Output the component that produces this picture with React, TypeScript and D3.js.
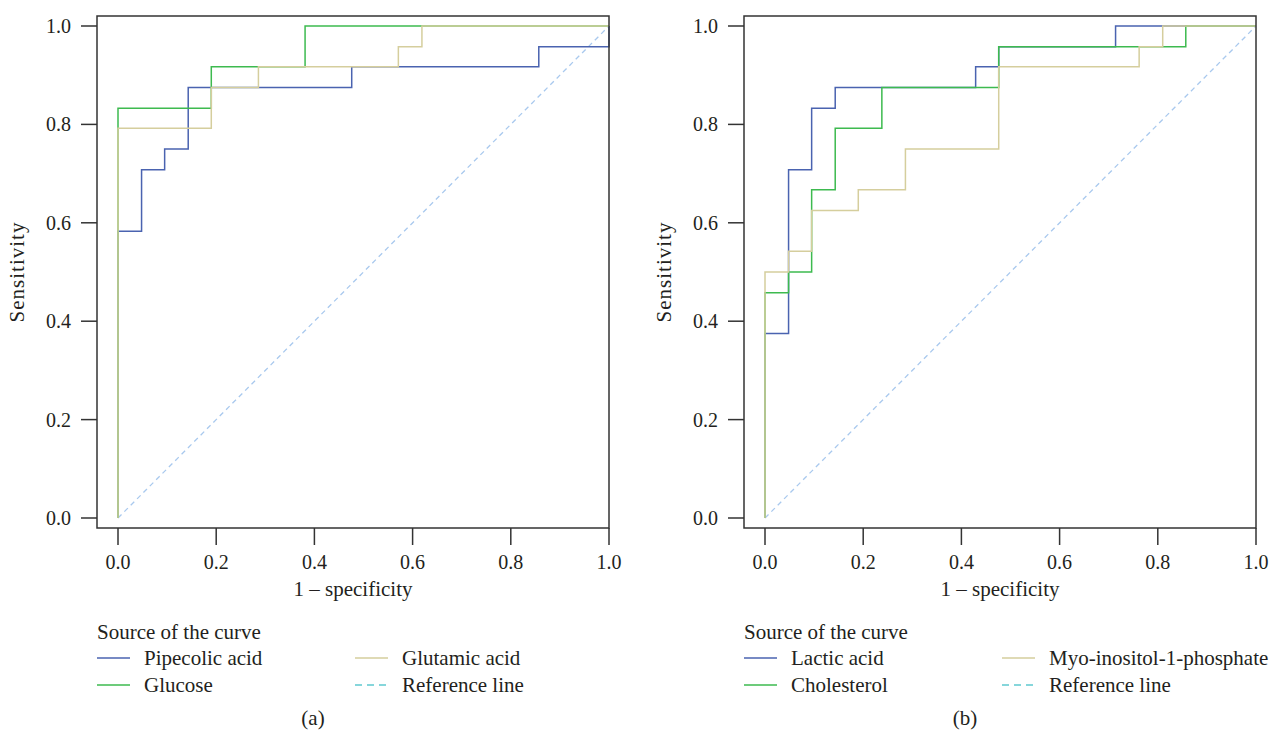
import React from "react";
import * as d3 from "d3";

// ---- Data ----
const tickValues = [0, 0.2, 0.4, 0.6, 0.8, 1.0];

const pipecolicFpr = [0, 0, 0.048, 0.095, 0.143, 0.476, 0.857, 1];
const pipecolicTpr = [0, 0.583, 0.708, 0.75, 0.875, 0.917, 0.958, 1];
const glucoseFpr = [0, 0, 0.19, 0.381, 1];
const glucoseTpr = [0, 0.833, 0.917, 1, 1];
const glutamicFpr = [0, 0, 0.19, 0.286, 0.571, 0.619, 1];
const glutamicTpr = [0, 0.792, 0.875, 0.917, 0.958, 1, 1];

const lacticFpr = [0, 0, 0.048, 0.095, 0.143, 0.429, 0.476, 0.714, 1];
const lacticTpr = [0, 0.375, 0.708, 0.833, 0.875, 0.917, 0.958, 1, 1];
const cholesterolFpr = [0, 0, 0.048, 0.095, 0.143, 0.238, 0.476, 0.857, 1];
const cholesterolTpr = [0, 0.458, 0.5, 0.667, 0.792, 0.875, 0.958, 1, 1];
const myoFpr = [0, 0, 0.048, 0.095, 0.19, 0.286, 0.476, 0.762, 0.81, 1];
const myoTpr = [0, 0.5, 0.542, 0.625, 0.667, 0.75, 0.917, 0.958, 1, 1];

const refFpr = [0, 1];
const refTpr = [0, 1];

const BLUE = "#4a63b0";
const GREEN = "#3dba4f";
const TAN = "#d5ce9d";
const REF = "#a9c9ee";
const REF_LEGEND = "#5fc9cf";
const INK = "#231f20";
const FONT = "'Liberation Serif', 'Times New Roman', serif";

type Series = { name: string; fpr: number[]; tpr: number[]; color: string };

const panelA: Series[] = [
  { name: "Pipecolic acid", fpr: pipecolicFpr, tpr: pipecolicTpr, color: BLUE },
  { name: "Glucose", fpr: glucoseFpr, tpr: glucoseTpr, color: GREEN },
  { name: "Glutamic acid", fpr: glutamicFpr, tpr: glutamicTpr, color: TAN },
];
const panelB: Series[] = [
  { name: "Lactic acid", fpr: lacticFpr, tpr: lacticTpr, color: BLUE },
  { name: "Cholesterol", fpr: cholesterolFpr, tpr: cholesterolTpr, color: GREEN },
  { name: "Myo-inositol-1-phosphate", fpr: myoFpr, tpr: myoTpr, color: TAN },
];

function Panel({ left, series, caption, captionX }: { left: number; series: Series[]; caption: string; captionX: number }) {
  const frameL = left;
  const frameR = left + 512;
  const frameT = 16;
  const frameB = 528;
  const x = d3.scaleLinear().domain([0, 1]).range([frameL + 21, frameR]);
  const y = d3.scaleLinear().domain([0, 1]).range([518, 26]);
  const step = d3
    .line<[number, number]>()
    .x((d) => x(d[0]))
    .y((d) => y(d[1]))
    .curve(d3.curveStepAfter);
  const straight = d3
    .line<[number, number]>()
    .x((d) => x(d[0]))
    .y((d) => y(d[1]));
  const refPts = refFpr.map((f, i) => [f, refTpr[i]] as [number, number]);
  const fmt = d3.format(".1f");
  const legendItems = [
    { name: series[0].name, color: series[0].color, dash: false, col: 0, row: 0 },
    { name: series[1].name, color: series[1].color, dash: false, col: 0, row: 1 },
    { name: series[2].name, color: series[2].color, dash: false, col: 1, row: 0 },
    { name: "Reference line", color: REF_LEGEND, dash: true, col: 1, row: 1 },
  ];
  return (
    <g fontFamily={FONT} fill={INK}>
      <path d={straight(refPts) || ""} fill="none" stroke={REF} strokeWidth={1.3} strokeDasharray="5,4" />
      {series.map((s) => (
        <path
          key={s.name}
          d={step(s.fpr.map((f, i) => [f, s.tpr[i]] as [number, number])) || ""}
          fill="none"
          stroke={s.color}
          strokeWidth={1.5}
        />
      ))}
      <rect x={frameL} y={frameT} width={frameR - frameL} height={frameB - frameT} fill="none" stroke="#333" strokeWidth={1.5} />
      {tickValues.map((t) => (
        <g key={"y" + t}>
          <line x1={frameL - 16} x2={frameL} y1={y(t)} y2={y(t)} stroke="#333" strokeWidth={1.5} />
          <text x={frameL - 26} y={y(t)} dy="0.35em" textAnchor="end" fontSize={20}>
            {fmt(t)}
          </text>
        </g>
      ))}
      {tickValues.map((t) => (
        <g key={"x" + t}>
          <line x1={x(t)} x2={x(t)} y1={frameB} y2={frameB + 17} stroke="#333" strokeWidth={1.5} />
          <text x={x(t)} y={569} textAnchor="middle" fontSize={20}>
            {fmt(t)}
          </text>
        </g>
      ))}
      <text x={(frameL + frameR) / 2} y={596} textAnchor="middle" fontSize={21}>
        1 – specificity
      </text>
      <text
        transform={`translate(${frameL - 73},${(frameT + frameB) / 2}) rotate(-90)`}
        textAnchor="middle"
        fontSize={21}
        letterSpacing={1}
      >
        Sensitivity
      </text>
      <text x={frameL} y={639} fontSize={21}>
        Source of the curve
      </text>
      {legendItems.map((it) => {
        const lx = frameL + (it.col === 0 ? 0 : 258);
        const ly = 658 + it.row * 27;
        return (
          <g key={it.name}>
            <line
              x1={lx}
              x2={lx + 33}
              y1={ly}
              y2={ly}
              stroke={it.color}
              strokeWidth={1.5}
              strokeDasharray={it.dash ? "7,5" : undefined}
            />
            <text x={lx + 47} y={ly + 7} fontSize={21}>
              {it.name}
            </text>
          </g>
        );
      })}
      <text x={captionX} y={725} textAnchor="middle" fontSize={21}>
        {caption}
      </text>
    </g>
  );
}

export default function App() {
  return (
    <div style={{ position: "absolute", left: 0, top: 0 }}>
      <svg width={1276} height={735} style={{ display: "block", background: "#fff" }}>
        <Panel left={97} series={panelA} caption="(a)" captionX={313} />
        <Panel left={744} series={panelB} caption="(b)" captionX={965} />
      </svg>
    </div>
  );
}
